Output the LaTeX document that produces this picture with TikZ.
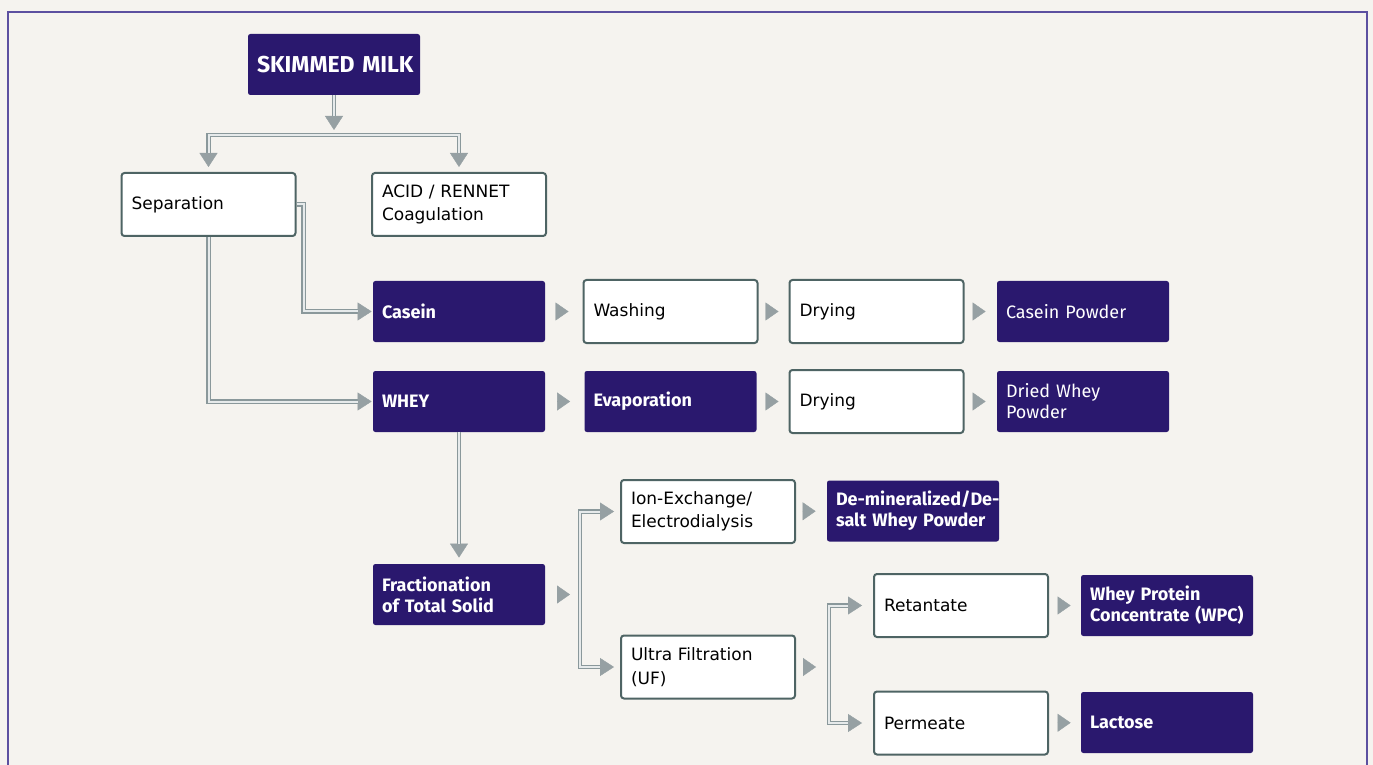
\documentclass[tikz,border=0pt]{standalone}
\usepackage{fontspec}
\usepackage{xcolor}
\usepackage{tikz}
\usetikzlibrary{arrows.meta,calc}
\newfontfamily\procfont{DejaVu Sans}
\newfontfamily\prodfont{Fira Sans}
\definecolor{milkPurple}{RGB}{42,24,110}
\definecolor{frameViolet}{RGB}{92,80,160}
\definecolor{edgeSlate}{RGB}{78,100,100}
\definecolor{pipeGray}{RGB}{138,152,155}
\definecolor{pipeLight}{RGB}{230,234,235}
\definecolor{tipGray}{RGB}{150,160,163}
\definecolor{paper}{RGB}{245,243,239}

\begin{document}
\begin{tikzpicture}[
    x=0.5pt, y=-0.5pt,
    process/.style={rectangle, rounded corners=1.5pt, draw=edgeSlate, line width=1pt, fill=white,
        text width=77pt, minimum height=31.5pt, align=left, inner xsep=5pt, inner ysep=0pt,
        font=\procfont\fontsize{8.5}{11.8}\selectfont},
    product/.style={rectangle, rounded corners=1.2pt, fill=milkPurple, text=white,
        text width=77pt, minimum height=30.5pt, align=left, inner xsep=4.5pt, inner ysep=0pt,
        font=\prodfont\fontsize{9}{10.5}\selectfont},
    productbf/.style={product, font=\prodfont\bfseries\fontsize{9}{10.5}\selectfont},
    pipe/.style={draw=pipeGray, line width=2.4pt, shorten >=#1,
        -{Triangle[length=7pt, width=9pt, line width=0.2pt, color=tipGray]},
        postaction={draw=pipeLight, line width=1pt, -, shorten >={#1+7pt}}},
    pipe/.default=0pt,
    tiponly/.style 2 args={draw=tipGray, line width=0.1pt, shorten <=#1, shorten >=#2,
        -{Triangle[length=6.5pt, width=9pt, line width=0.2pt, color=tipGray]}},
    ]
    \fill[paper] (0,0) rectangle (1373,765);
    \useasboundingbox (0,0) rectangle (1373,765);
    \draw[frameViolet, line width=1pt] (8,765) -- (8,12) -- (1367,12) -- (1367,765);
    % Top
    \node[productbf, align=center,
        font=\prodfont\bfseries\fontsize{11.5}{13}\selectfont] (milk) at (334,64.5) {\mbox{SKIMMED MILK}};
    \node[process] (sep)  at (208.5,204.5) {Separation};
    \node[process] (acid) at (459,204.5)   {ACID / RENNET\\Coagulation};
    % Row casein
    \node[productbf] (casein) at (459,311.5)   {Casein};
    \node[process]   (wash)   at (670.5,311.5) {Washing};
    \node[process]   (dryc)   at (876.5,311.5) {Drying};
    \node[product]   (cpow)   at (1083,311.5)  {Casein Powder};
    % Row whey
    \node[productbf] (whey)   at (459,401.5)   {WHEY};
    \node[productbf] (evap)   at (670.5,401.5) {Evaporation};
    \node[process]   (dryw)   at (876.5,401.5) {Drying};
    \node[product]   (dwp)    at (1083,401.5)  {Dried Whey\\Powder};
    % Fractionation
    \node[process]   (ion)    at (708,511.5)   {Ion-Exchange/\\Electrodialysis};
    \node[productbf] (demin)  at (913,511)     {\mbox{De-mineralized/De-}\\salt Whey Powder};
    \node[productbf] (frac)   at (459,594.5)   {Fractionation\\of Total Solid};
    \node[process]   (uf)     at (708,667)     {Ultra Filtration\\(UF)};
    \node[process]   (ret)    at (961,605.5)   {Retantate};
    \node[productbf] (wpc)    at (1167,605.5)  {Whey Protein\\Concentrate (WPC)};
    \node[process]   (perm)   at (961,723)     {Permeate};
    \node[productbf] (lact)   at (1167,722.5)  {Lactose};
    \coordinate (milkSplit) at (334,135);
    \coordinate (fracSplit) at (580,594.5);
    \coordinate (ufSplit)   at (829,667);
    % Pipes
    \draw[pipe=2.5pt] (milk.south) -- (milkSplit);
    \draw[pipe=2.5pt] (milkSplit) -| (sep.north);
    \draw[pipe=2.5pt] (milkSplit) -| (acid.north);
    \draw[pipe=0.5pt] (sep.east) -- ++(7,0) |- (casein.west);
    \draw[pipe=0.5pt] (sep.south) |- (whey.west);
    \draw[pipe=3pt] (whey.south) -- (frac.north);
    \draw[pipe=3pt] (fracSplit) |- (ion.west);
    \draw[pipe=3pt] (fracSplit) |- (uf.west);
    \draw[pipe=5.5pt] (ufSplit) |- (ret.west);
    \draw[pipe=5.5pt] (ufSplit) |- (perm.west);
    % Step tips
    \draw[tiponly={6pt}{7pt}]   (casein) -- (wash);
    \draw[tiponly={5pt}{5pt}]   (wash) -- (dryc);
    \draw[tiponly={5pt}{5.5pt}] (dryc) -- (cpow);
    \draw[tiponly={6pt}{7pt}]   (whey) -- (evap);
    \draw[tiponly={5pt}{5pt}]   (evap) -- (dryw);
    \draw[tiponly={5pt}{5.5pt}] (dryw) -- (dwp);
    \draw[tiponly={4pt}{5.5pt}] (ion) -- (demin);
    \draw[tiponly={6pt}{5pt}]   (frac.east) -- (fracSplit);
    \draw[tiponly={4pt}{6.5pt}] (uf.east) -- (ufSplit);
    \draw[tiponly={5pt}{5pt}]   (ret) -- (wpc);
    \draw[tiponly={5pt}{5pt}]   (perm) -- (lact);
\end{tikzpicture}
\end{document}
